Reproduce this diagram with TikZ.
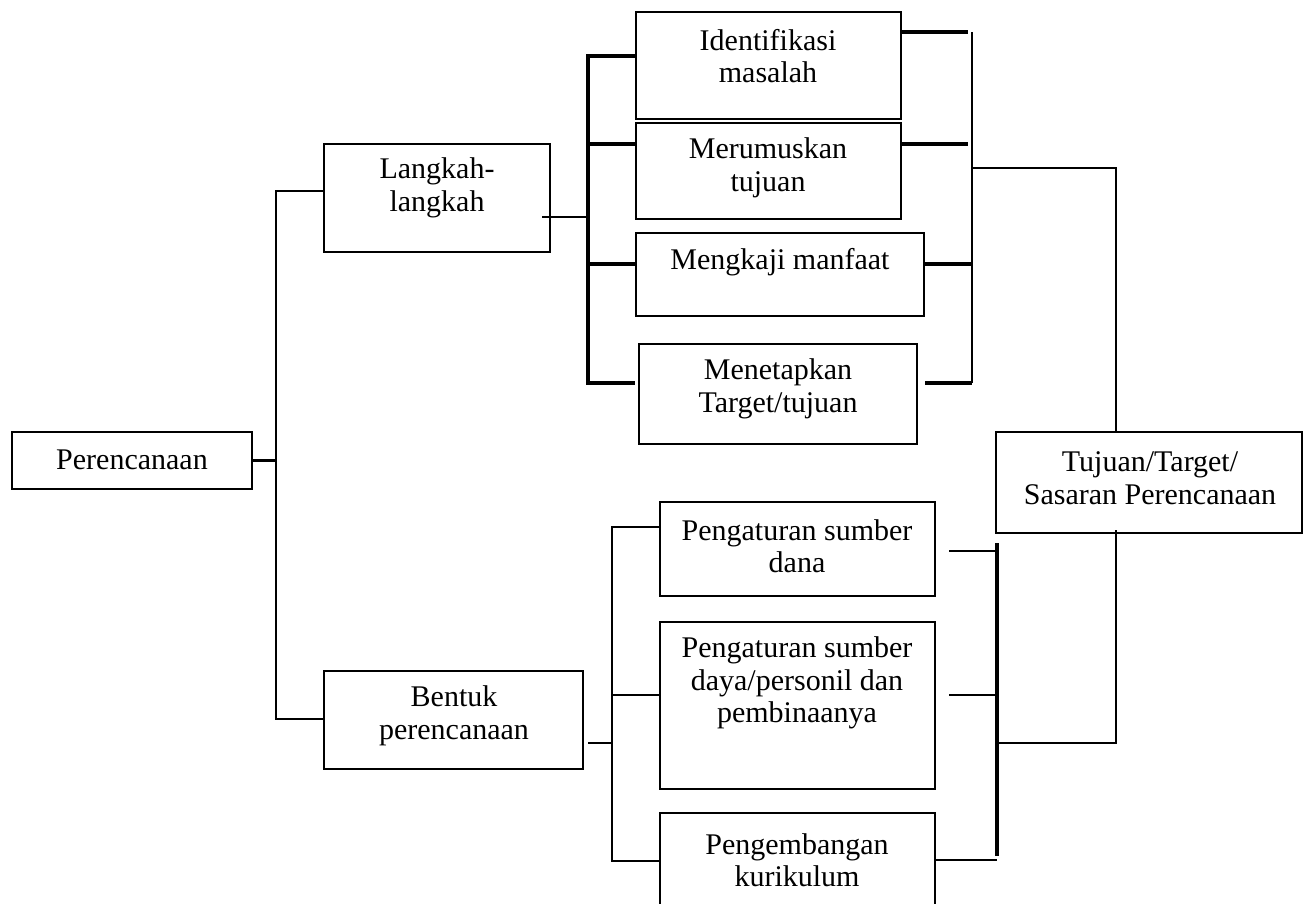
\documentclass[tikz,border=0pt]{standalone}
\usepackage{fontspec}
\setmainfont{Liberation Serif}
\begin{document}
\begin{tikzpicture}[x=1pt,y=-1pt,
  box/.style={draw, line width=2.4pt, inner sep=0pt},
  lbl/.style={align=center, inner sep=0pt, font=\fontsize{30}{32.5}\selectfont},
  wire/.style={line width=2.2pt},
  heavy/.style={line width=3.2pt}]
\useasboundingbox (0,0) rectangle (1304,903);
\clip (0,0) rectangle (1304,903);

% boxes
\node[box, minimum width=240pt, minimum height=57pt]  (per)    at (132,460.5)  {};
\node[box, minimum width=226pt, minimum height=108pt] (langkah) at (437,198)   {};
\node[box, minimum width=259pt, minimum height=98pt]  (bentuk) at (453.5,720)  {};
\node[box, minimum width=265pt, minimum height=107pt] (ident)  at (768.5,65.5) {};
\node[box, minimum width=265pt, minimum height=96pt]  (merum)  at (768.5,171)  {};
\node[box, minimum width=288pt, minimum height=83pt]  (mengk)  at (780,274.5)  {};
\node[box, minimum width=278pt, minimum height=100pt] (menet)  at (778,394)    {};
\node[box, minimum width=306pt, minimum height=101pt] (tujuan) at (1149,482.5) {};
\node[box, minimum width=275pt, minimum height=94pt]  (dana)   at (797.5,549)  {};
\node[box, minimum width=275pt, minimum height=167pt] (daya)   at (797.5,705.5){};
\node[box, minimum width=275pt, minimum height=117pt] (kurik)  at (797.5,871.5){};

% labels
\node[lbl] (perT)     at (132,460)  {Perencanaan};
\node[lbl] (langkahT) at (437,188)  {Langkah-\\langkah};
\node[lbl] (bentukT)  at (454,716)  {Bentuk\\perencanaan};
\node[lbl] (identT)   at (768,56)   {Identifikasi\\masalah};
\node[lbl] (merumT)   at (768,168)  {Merumuskan\\tujuan};
\node[lbl] (mengkT)   at (780,262)  {Mengkaji manfaat};
\node[lbl] (menetT)   at (778,389)  {Menetapkan\\Target/tujuan};
\node[lbl] (tujuanT)  at (1150,478) {Tujuan/Target/\\Sasaran Perencanaan};
\node[lbl] (danaT)    at (797,546)  {Pengaturan sumber\\dana};
\node[lbl] (dayaT)    at (797,683)  {Pengaturan sumber\\daya/personil dan\\pembinaanya};
\node[lbl] (kurikT)   at (797,860)  {Pengembangan\\kurikulum};

% left bus
\coordinate (b1t) at (276,191);
\coordinate (b1b) at (276,719);
\draw[wire] (langkah.west |- b1t) -- (b1t) -- (b1b) -- (bentuk.west |- b1b);
\draw[heavy] (per.east) -- (per.east -| b1t);

% bus of the steps
\coordinate (b2)  at (588,217);
\coordinate (b2t) at (588,56);
\coordinate (b2a) at (588,144);
\coordinate (b2c) at (588,264);
\coordinate (b2b) at (588,383);
\draw[wire] ([xshift=-9pt]langkah.east |- b2) -- (b2);
\draw[heavy] (ident.west |- b2t) -- (b2t) -- (b2b) -- ([xshift=-3pt]menet.west |- b2b);
\draw[heavy] (b2a) -- (b2a -| merum.west);
\draw[heavy] (b2c) -- (b2c -| mengk.west);

% right bus of the steps
\coordinate (b3t) at (972,32);
\coordinate (b3a) at (972,144);
\coordinate (b3c) at (972,264);
\coordinate (b3b) at (972,383);
\coordinate (b3o) at (972,168);
\coordinate (tx)  at (1116,0);
\draw[heavy] (ident.east |- b3t) -- ([xshift=-4pt]b3t);
\draw[heavy] (merum.east |- b3a) -- ([xshift=-4pt]b3a);
\draw[heavy] (mengk.east |- b3c) -- (b3c);
\draw[heavy] ([xshift=7pt]menet.east |- b3b) -- (b3b);
\draw[wire] (b3t) -- (b3b);
\draw[wire] (b3o) -| (tx |- tujuan.north);

% bus of the forms
\coordinate (b5t) at (612,527);
\coordinate (b5m) at (612,695);
\coordinate (b5o) at (612,743);
\coordinate (b5b) at (612,861);
\draw[wire] ([xshift=4pt]bentuk.east |- b5o) -- (b5o);
\draw[wire] (dana.west |- b5t) -- (b5t) -- (b5b) -- (kurik.west |- b5b);
\draw[wire] (b5m) -- (b5m -| daya.west);

% right bus of the forms
\coordinate (b4t) at (997,543);
\coordinate (b4a) at (997,551);
\coordinate (b4d) at (997,695);
\coordinate (b4m) at (997,743);
\coordinate (b4b) at (997,856);
\coordinate (b4k) at (997,860);
\draw[heavy] (b4t) -- (b4b);
\draw[wire] ([xshift=13pt]dana.east |- b4a) -- (b4a);
\draw[wire] ([xshift=13pt]daya.east |- b4d) -- (b4d);
\draw[wire] (kurik.east |- b4k) -- (b4k);
\draw[wire] (b4m) -| ([yshift=4pt]tx |- tujuan.south);
\end{tikzpicture}
\end{document}
